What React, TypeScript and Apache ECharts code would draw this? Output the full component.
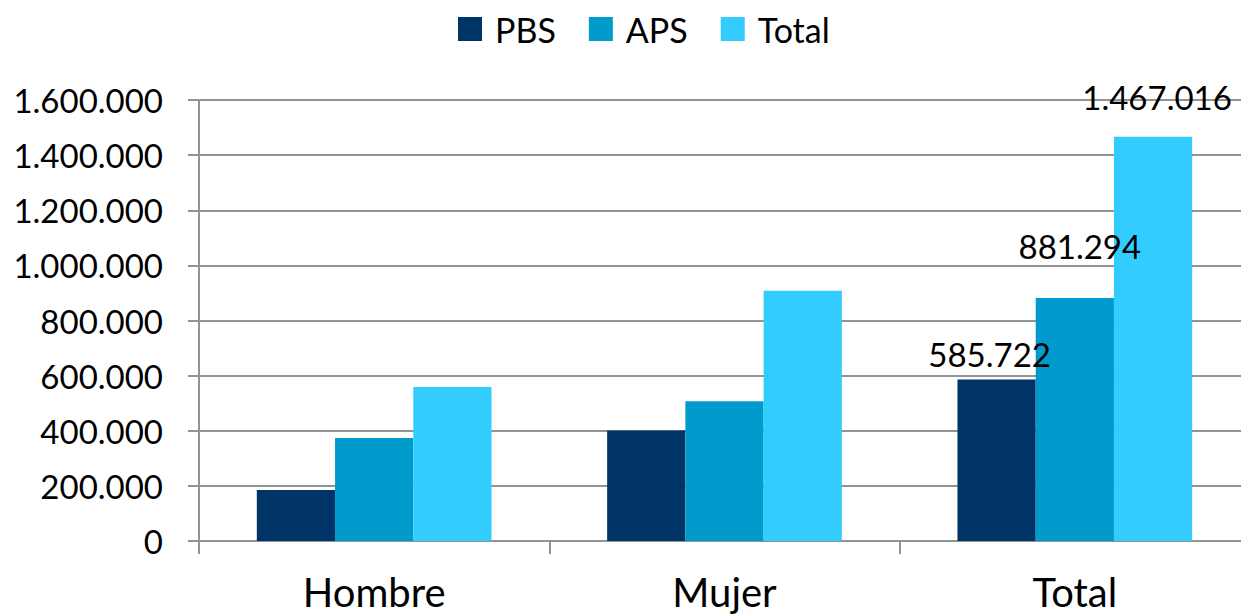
import React, { useEffect, useRef } from "react";
import * as echarts from "echarts";

const categories = ["Hombre", "Mujer", "Total"];
const seriesNames = ["PBS", "APS", "Total"];
const pbsValues = [185000, 400722, 585722];
const apsValues = [374000, 507294, 881294];
const totalValues = [559000, 908016, 1467016];
const yTicks = [0, 200000, 400000, 600000, 800000, 1000000, 1200000, 1400000, 1600000];
const colors = ["#003366", "#009ACD", "#33CCFF"];

const FONT = "Lato";

function fmt(v: number): string {
  return String(Math.round(v)).replace(/\B(?=(\d{3})+(?!\d))/g, ".");
}

export default function App() {
  const ref = useRef<HTMLDivElement>(null);

  useEffect(() => {
    if (!ref.current) return;
    const chart = echarts.init(ref.current, undefined, { renderer: "svg" });

    const labelOffsets: Record<string, [number, number]> = {
      PBS: [-7, -4],
      APS: [5, -31],
      Total: [4, -18],
    };

    const mk = (name: string, values: number[], color: string) => ({
      name,
      type: "bar",
      barGap: "0%",
      barCategoryGap: "33%",
      itemStyle: { color },
      data: values.map((v, i) => {
        const d: any = { value: v };
        if (categories[i] === "Total") {
          d.label = {
            show: true,
            position: "top",
            offset: labelOffsets[name],
            formatter: (p: any) => fmt(p.value),
            color: "#000",
            fontFamily: FONT,
            fontSize: 33,
          };
        }
        return d;
      }),
    });

    chart.setOption({
      animation: false,
      backgroundColor: "#fff",
      color: colors,
      textStyle: { fontFamily: FONT },
      legend: {
        top: 7,
        left: 453,
        icon: "rect",
        itemWidth: 24,
        itemHeight: 24,
        itemGap: 33,
        data: seriesNames,
        textStyle: { fontFamily: FONT, fontSize: 34, color: "#000", padding: [0, 0, 0, 8] },
      },
      grid: { left: 199, right: 0, top: 100, bottom: 74, containLabel: false },
      xAxis: {
        type: "category",
        data: categories,
        axisLine: { show: true, lineStyle: { color: "#939393", width: 2 } },
        axisTick: { show: true, length: 13, lineStyle: { color: "#939393", width: 2 } },
        axisLabel: { fontFamily: FONT, fontSize: 40, color: "#000", margin: 31 },
      },
      yAxis: {
        type: "value",
        min: yTicks[0],
        max: yTicks[yTicks.length - 1],
        interval: yTicks[1] - yTicks[0],
        axisLine: { show: true, lineStyle: { color: "#939393", width: 2 } },
        axisTick: { show: true, length: 11, lineStyle: { color: "#939393", width: 2 } },
        splitLine: { show: true, lineStyle: { color: "#939393", width: 2 } },
        axisLabel: {
          fontFamily: FONT,
          fontSize: 33,
          color: "#000",
          margin: 36,
          formatter: (v: number) => fmt(v),
        },
      },
      series: [
        mk(seriesNames[0], pbsValues, colors[0]),
        mk(seriesNames[1], apsValues, colors[1]),
        mk(seriesNames[2], totalValues, colors[2]),
      ],
    });

    return () => chart.dispose();
  }, []);

  return (
    <div
      style={{ position: "fixed", left: 0, top: 0, width: 1241, height: 615, overflow: "hidden", background: "#fff" }}
    >
      <div ref={ref} style={{ width: 1250, height: 615 }} />
    </div>
  );
}
